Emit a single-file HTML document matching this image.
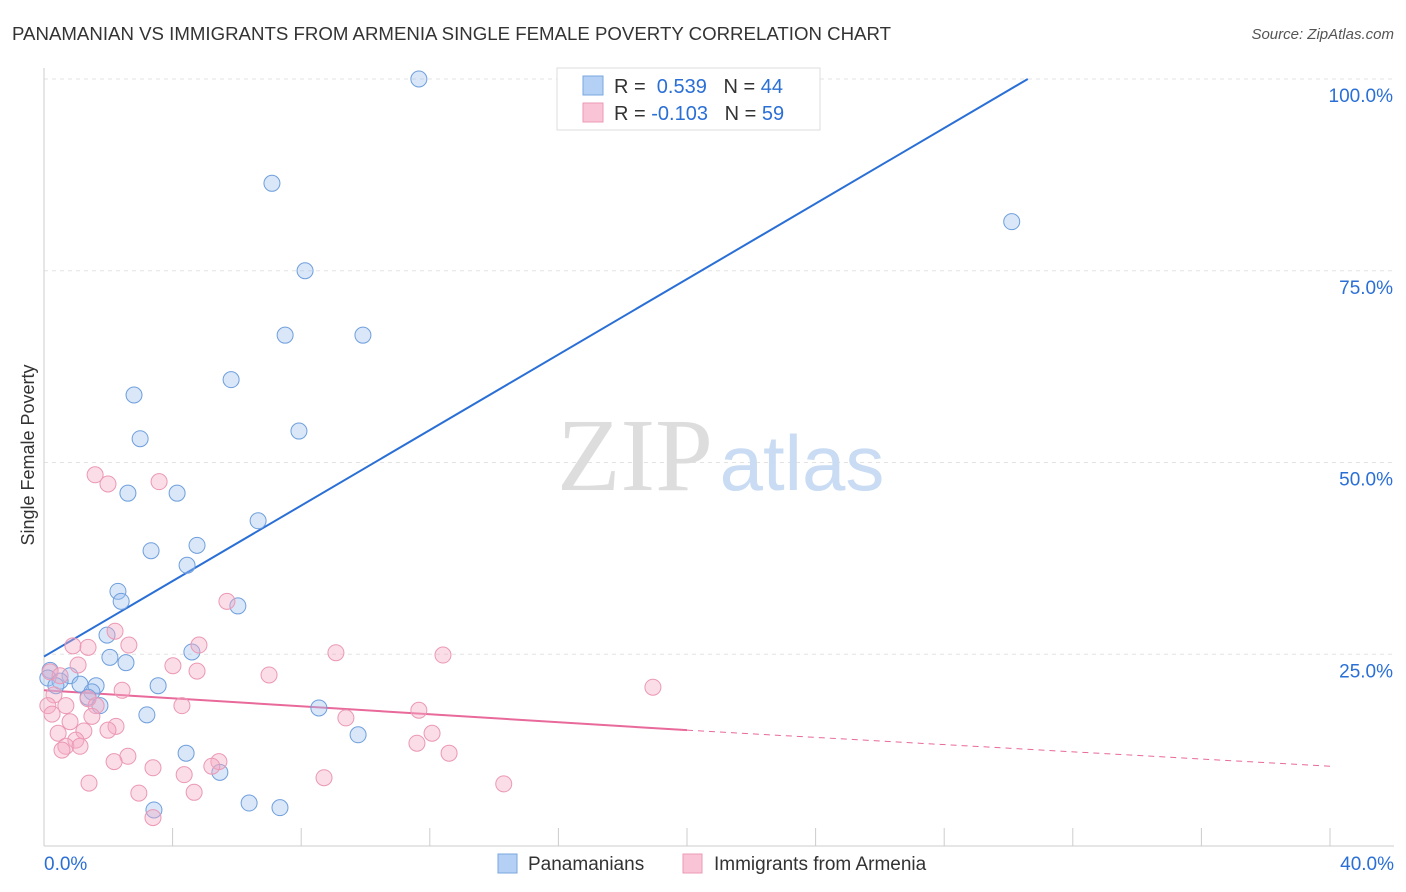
<!DOCTYPE html>
<html><head><meta charset="utf-8"><style>
body{margin:0;background:#fff;font-family:"Liberation Sans",sans-serif}
svg{display:block}
</style></head><body>
<svg id="chart" width="1406" height="892">
<text x="12" y="40" font-size="18" fill="#333" textLength="879" lengthAdjust="spacingAndGlyphs">PANAMANIAN VS IMMIGRANTS FROM ARMENIA SINGLE FEMALE POVERTY CORRELATION CHART</text>
<text x="1394" y="39" font-size="15" fill="#555" text-anchor="end" font-style="italic">Source: ZipAtlas.com</text>
<text x="34" y="455" font-size="18" fill="#333" text-anchor="middle" transform="rotate(-90 34 455)">Single Female Poverty</text>
<g id="grid"></g>
<g><text x="635" y="490" font-size="104" fill="#ddd" font-family="Liberation Serif" text-anchor="middle">ZIP</text><text x="802" y="490" font-size="78" fill="#c9dcf3" text-anchor="middle">atlas</text></g>
<g id="lines"></g>
<g id="pts"></g>
<g>
<rect x="557" y="68" width="263" height="62" fill="#fff" stroke="#ddd"/>
<rect x="583" y="76" width="20" height="19" fill="#b5d0f5" stroke="#7aa7e0"/>
<rect x="583" y="103" width="20" height="19" fill="#f9c4d5" stroke="#eb9ab5"/>
<text x="614" y="93" font-size="20" fill="#333">R = <tspan fill="#2a6fd6">&#160;0.539</tspan>&#160;&#160;&#160;N = <tspan fill="#2a6fd6">44</tspan></text>
<text x="614" y="120" font-size="20" fill="#333">R = <tspan fill="#2a6fd6">-0.103</tspan>&#160;&#160;&#160;N = <tspan fill="#2a6fd6">59</tspan></text>
</g>
<g>
<rect x="498" y="854" width="19" height="19" fill="#b5d0f5" stroke="#7aa7e0"/>
<text x="528" y="870" font-size="19" fill="#333">Panamanians</text>
<rect x="683" y="854" width="19" height="19" fill="#f9c4d5" stroke="#eb9ab5"/>
<text x="714" y="870" font-size="19" fill="#333">Immigrants from Armenia</text>
</g>
</svg>
<script>
const yTicks=[25,50,75,100];
const yTickLabels=["25.0%","50.0%","75.0%","100.0%"];
const xTickLabels=["0.0%","40.0%"];
const blueX=[11.66,7.09,30.1,8.12,7.5,9.92,5.82,2.8,7.93,2.99,2.61,4.14,6.66,4.76,3.33,4.45,2.3,2.4,6.03,1.96,4.6,2.05,2.55,0.19,0.12,0.81,0.5,1.12,1.62,3.55,0.37,1.49,1.37,1.74,8.55,3.2,9.77,4.42,5.47,6.38,7.34,3.42];
const blueY=[100,86.4,81.4,75,66.6,66.6,60.8,58.8,54.1,53.1,46,46,42.4,39.2,38.5,36.6,33.2,31.9,31.3,27.5,25.3,24.6,23.9,22.9,21.9,22.2,21.5,21.1,20.9,20.9,20.9,20.1,19.4,18.3,18,17.1,14.5,12.1,9.6,5.6,5,4.7];
const pinkX=[1.59,1.99,3.58,5.69,2.21,0.9,1.37,2.64,4.82,9.08,12.41,1.06,4.01,4.76,7,0.19,0.5,2.43,18.94,0.31,1.37,0.12,0.68,1.62,4.29,11.66,0.25,1.49,9.39,0.81,2.24,1.99,0.44,1.24,12.07,0.99,11.6,0.68,1.12,0.56,2.61,12.6,2.18,5.44,5.22,3.39,4.36,8.71,1.4,14.3,2.95,4.67,3.39];
const pinkY=[48.4,47.2,47.5,31.9,28,26.1,25.9,26.2,26.2,25.2,24.9,23.6,23.5,22.8,22.3,22.7,22.2,20.3,20.7,19.7,19.2,18.3,18.3,18.3,18.3,17.7,17.2,16.9,16.7,16.2,15.6,15.1,14.7,15,14.7,13.8,13.4,13,13,12.5,11.7,12.1,11,11,10.4,10.2,9.3,8.9,8.2,8.1,6.9,7,3.7];
const blueLine=[0,24.7,30.6,100];
const pinkLine=[0,20.3,20,15.1,40,10.4];
const X=v=>44+v*32.15, Y=v=>846-v*7.67;
const NS="http://www.w3.org/2000/svg";
function mk(t,a,p){const e=document.createElementNS(NS,t);for(const k in a)e.setAttribute(k,a[k]);p.appendChild(e);return e;}
const g=document.getElementById('grid');
yTicks.forEach((t,i)=>{
 const l=mk('line',{x1:44,x2:1394,y1:Y(t),y2:Y(t),stroke:'#e3e3e3','stroke-dasharray':'4,4'},g);
 
 
 const tx=mk('text',{x:1393,y:Y(t)+23,'font-size':19,fill:'#2a6fd6','text-anchor':'end'},g);
 tx.textContent=yTickLabels[i];
 
 
});
const ax=mk('line',{x1:44,x2:1394,y1:846,y2:846,stroke:'#ccc'},g);


const ay=mk('line',{x1:44,x2:44,y1:68,y2:846,stroke:'#ccc'},g);


for(let i=0;i<=10;i++){const t=mk('line',{x1:X(i*4),x2:X(i*4),y1:828,y2:846,stroke:'#ccc'},g);
 
 }
[[0,'start',44],[40,'end',1394]].forEach((d,i)=>{const t=mk('text',{x:d[2],y:870,'font-size':19,fill:'#2a6fd6','text-anchor':d[1]},g);t.textContent=xTickLabels[i];
 
 });
const pg=document.getElementById('pts');
blueX.forEach((x,i)=>{const c=mk('circle',{cx:X(x),cy:Y(blueY[i]),r:8,fill:'rgba(160,196,240,0.4)',stroke:'#6f9fdc','stroke-width':1},pg);
 
 });
pinkX.forEach((x,i)=>{const c=mk('circle',{cx:X(x),cy:Y(pinkY[i]),r:8,fill:'rgba(245,170,195,0.4)',stroke:'#eb98b4','stroke-width':1},pg);
 
 });
const lg=document.getElementById('lines');
const bl=mk('line',{x1:X(blueLine[0]),y1:Y(blueLine[1]),x2:X(blueLine[2]),y2:Y(blueLine[3]),stroke:'#2a6fd6','stroke-width':2},lg);


const pl=mk('line',{x1:X(pinkLine[0]),y1:Y(pinkLine[1]),x2:X(pinkLine[2]),y2:Y(pinkLine[3]),stroke:'#e8699a','stroke-width':2},lg);


const pd=mk('line',{x1:X(pinkLine[2]),y1:Y(pinkLine[3]),x2:X(pinkLine[4]),y2:Y(pinkLine[5]),stroke:'#e8699a','stroke-width':1,'stroke-dasharray':'6,5'},lg);


</script>
</body></html>
